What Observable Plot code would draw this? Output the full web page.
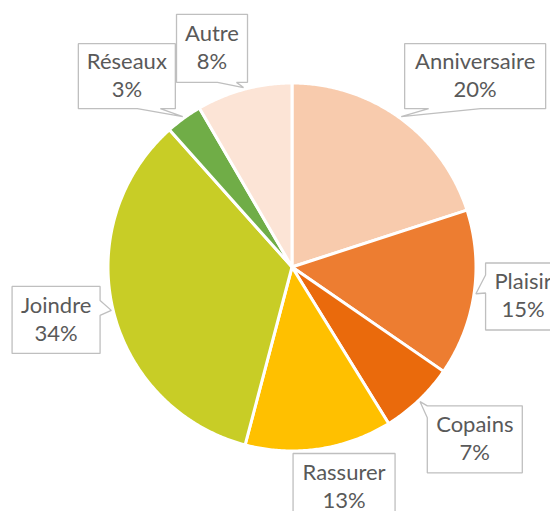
<!DOCTYPE html>
<html>
<head>
<meta charset="utf-8">
<script src="https://cdn.jsdelivr.net/npm/d3@7"></script>
<script src="https://cdn.jsdelivr.net/npm/@observablehq/plot@0.6"></script>
<style>
  html, body { margin: 0; padding: 0; background: #fff; }
  #chart { width: 550px; height: 511px; overflow: hidden; }
</style>
</head>
<body>
<div id="chart"></div>
<script>
// ---- data ----
const names  = ["Anniversaire", "Plaisir", "Copains", "Rassurer", "Joindre", "Réseaux", "Autre"];
const values = [20, 14.6, 6.6, 12.9, 34.3, 3.2, 8.4];
const colors = ["#F8CBAD", "#ED7D31", "#EA6A0C", "#FFC000", "#C8CD26", "#70AD47", "#FCE4D6"];

// ---- layout (label boxes, px, relative to each slice's edge anchor) ----
const labelDx   = [75, 49, 56, 25, -57, -57, -32];
const labelDy   = [-42, 3, 39, 38, 10, -42, -41];
const labelW    = [141, 75, 95, 102, 88, 97, 71];
const labelH    = [65, 67, 67, 67, 67, 65, 68];
const ptrSide   = ["bottom", "left", "left", "none", "right", "bottom", "bottom"];
const ptrFrom   = [24, 12, 0, 0, 14, 59, 41];
const ptrTo     = [76, 30, 12, 0, 29, 82, 60];

const W = 550, H = 511, R = 184, CX = 291.5, CY = 266.5;
const total = d3.sum(values);

// slices as closed polygons in unit-radius coordinates
const slicePts = [];
const mids = [];
let cum = 0;
names.forEach((name, i) => {
  const a0 = cum / total * 2 * Math.PI;
  cum += values[i];
  const a1 = cum / total * 2 * Math.PI;
  mids.push((a0 + a1) / 2);
  slicePts.push({name, x: 0, y: 0});
  const n = Math.max(2, Math.ceil((a1 - a0) / (Math.PI / 360)));
  for (let k = 0; k <= n; k++) {
    const a = a0 + (a1 - a0) * k / n;
    slicePts.push({name, x: Math.sin(a), y: Math.cos(a)});
  }
});

// callouts
const calloutPts = [];
const labels = [];
names.forEach((name, i) => {
  const m = mids[i];
  const ax = R * Math.sin(m), ay = -R * Math.cos(m);      // screen offset from center
  const tx = 1.01 * ax, ty = 1.01 * ay;
  const bx = ax + labelDx[i], by = ay + labelDy[i];
  const w = labelW[i], h = labelH[i];
  const L = bx - w / 2, T = by - h / 2, Rt = bx + w / 2, B = by + h / 2;
  const s = ptrSide[i], a = ptrFrom[i], b = ptrTo[i];
  const pts = [];
  pts.push([L, T]);
  if (s === "top") { pts.push([L + a, T], [tx, ty], [L + b, T]); }
  pts.push([Rt, T]);
  if (s === "right") { pts.push([Rt, T + a], [tx, ty], [Rt, T + b]); }
  pts.push([Rt, B]);
  if (s === "bottom") { pts.push([L + b, B], [tx, ty], [L + a, B]); }
  pts.push([L, B]);
  if (s === "left") { pts.push([L, T + b], [tx, ty], [L, T + a]); }
  pts.forEach(([px, py]) => calloutPts.push({name, x: px / R, y: -py / R}));
  labels.push({name, x: bx / R, y: -by / R, text: name + "\n" + Math.round(values[i] / total * 100) + "%"});
});

const chart = Plot.plot({
  width: W,
  height: H,
  margin: 0,
  x: {domain: [-CX / R, (W - CX) / R], axis: null},
  y: {domain: [-(H - CY) / R, CY / R], axis: null},
  color: {domain: names, range: colors},
  marks: [
    Plot.line(slicePts, {x: "x", y: "y", z: "name", fill: "name", stroke: "white", strokeWidth: 3, curve: "linear-closed"}),
    Plot.line(calloutPts, {x: "x", y: "y", z: "name", fill: "white", stroke: "#BFBFBF", strokeWidth: 1.3, strokeLinejoin: "miter", curve: "linear-closed"}),
    Plot.text(labels, {x: "x", y: "y", text: "text", fontSize: 22, lineHeight: 1.27, fill: "#595959", fontFamily: "Lato, 'Open Sans', sans-serif", dy: -2})
  ]
});
document.getElementById("chart").appendChild(chart);
</script>
</body>
</html>
